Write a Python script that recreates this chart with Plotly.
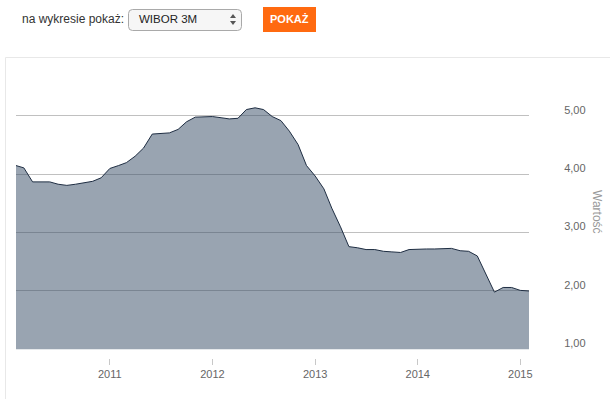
import pandas as pd
import plotly.graph_objects as go

# ---- data ----
start_month = "2010-02-01"
wibor_3m = [
    4.15, 4.11, 3.87, 3.87, 3.87, 3.83, 3.81, 3.83, 3.85, 3.88, 3.94,
    4.10, 4.15, 4.20, 4.31, 4.45, 4.69, 4.70, 4.71, 4.77, 4.90, 4.98, 4.99,
    4.99, 4.97, 4.95, 4.96, 5.11, 5.14, 5.11, 4.99, 4.92, 4.74, 4.51, 4.15,
    3.97, 3.75, 3.42, 3.10, 2.76, 2.74, 2.71, 2.71, 2.68, 2.67, 2.66, 2.71,
    2.72, 2.72, 2.72, 2.73, 2.73, 2.69, 2.68, 2.60, 2.29, 1.98, 2.06, 2.06,
    2.01, 2.00,
]
dates = pd.date_range(start_month, periods=len(wibor_3m), freq="MS")
y_ticks = [1, 2, 3, 4, 5]
x_ticks = ["2011-01-01", "2012-01-01", "2013-01-01", "2014-01-01", "2015-01-01"]
x_tick_labels = ["2011", "2012", "2013", "2014", "2015"]

# ---- layout geometry (pixels) ----
W, H = 610, 399
ML, MR, MT, MB = 16, 81, 70, 41
PW = W - ML - MR
PH = H - MT - MB
PLOT_BOTTOM = 349.3
UNIT = 58.33


def px(x):
    return (x - ML) / PW


def py(y):
    return (H - MB - y) / PH


def rrect(x0, y0, x1, y1, r):
    rx, ry = r / PW, r / PH
    X0, X1 = px(x0), px(x1)
    Y0, Y1 = py(y0), py(y1)  # Y0 top (larger), Y1 bottom
    return (f"M{X0+rx},{Y0} L{X1-rx},{Y0} Q{X1},{Y0} {X1},{Y0-ry} "
            f"L{X1},{Y1+ry} Q{X1},{Y1} {X1-rx},{Y1} L{X0+rx},{Y1} "
            f"Q{X0},{Y1} {X0},{Y1+ry} L{X0},{Y0-ry} Q{X0},{Y0} {X0+rx},{Y0} Z")


fig = go.Figure()
fig.add_trace(go.Scatter(
    x=dates, y=wibor_3m, mode="lines",
    line=dict(color="#1e2d42", width=1),
    fill="tozeroy", fillcolor="rgba(52,74,99,0.5)",
    hoverinfo="x+y", showlegend=False,
))

ydom0 = (H - MB - PLOT_BOTTOM) / PH
ytop = 1 + (PLOT_BOTTOM - MT) / UNIT

fig.update_layout(
    width=W, height=H,
    margin=dict(l=ML, r=MR, t=MT, b=MB, pad=0),
    paper_bgcolor="white", plot_bgcolor="white",
    separators=", ",
    font=dict(family="Liberation Sans, Arial, sans-serif", size=11, color="#666"),
    xaxis=dict(
        range=[dates[0], dates[-1]],
        anchor="free", position=0,
        showgrid=False, zeroline=False, showline=False,
        tickvals=x_ticks, ticktext=x_tick_labels,
        ticks="outside", ticklen=6, tickwidth=1, tickcolor="#c8c8c8",
        tickfont=dict(size=11, color="#666"),
    ),
    yaxis=dict(
        domain=[ydom0, 1],
        range=[1, ytop],
        side="right",
        tickvals=y_ticks, tickformat=".2f",
        showgrid=True, gridcolor="#c0c0c0", gridwidth=1,
        zeroline=False, showline=False,
        ticks="outside", ticklen=32, tickcolor="rgba(0,0,0,0)",
        ticklabelshift=-6,
        tickfont=dict(size=11, color="#666"),
    ),
)

shapes = [
    # panel border
    dict(type="rect", xref="paper", yref="paper",
         x0=px(5.5), x1=px(640), y0=py(57.5), y1=py(430),
         line=dict(color="#e8e8e8", width=1), fillcolor="rgba(0,0,0,0)", layer="below"),
    # select box
    dict(type="path", xref="paper", yref="paper", path=rrect(128.5, 9.5, 241.5, 30.5, 4),
         line=dict(color="#a9a9a9", width=1), fillcolor="#f6f6f6"),
    # select arrows
    dict(type="path", xref="paper", yref="paper",
         path=f"M{px(230)},{py(18)} L{px(236)},{py(18)} L{px(233)},{py(14)} Z",
         line=dict(width=0), fillcolor="#555"),
    dict(type="path", xref="paper", yref="paper",
         path=f"M{px(230)},{py(21)} L{px(236)},{py(21)} L{px(233)},{py(25)} Z",
         line=dict(width=0), fillcolor="#555"),
    # button
    dict(type="rect", xref="paper", yref="paper",
         x0=px(263), x1=px(316), y0=py(7), y1=py(32),
         line=dict(width=0), fillcolor="#ff6a10"),
]

annotations = [
    dict(text="na wykresie pokaż:", xref="paper", yref="paper",
         x=px(20), y=py(19.5), xanchor="left", yanchor="middle", showarrow=False,
         font=dict(family="Liberation Sans, Arial, sans-serif", size=12, color="#333")),
    dict(text="WIBOR 3M", xref="paper", yref="paper",
         x=px(137), y=py(19.5), xanchor="left", yanchor="middle", showarrow=False,
         font=dict(family="Liberation Sans, Arial, sans-serif", size=11.5, color="#222")),
    dict(text="<b>POKAŻ</b>", xref="paper", yref="paper",
         x=px(289.5), y=py(19.5), xanchor="center", yanchor="middle", showarrow=False,
         font=dict(family="Liberation Sans, Arial, sans-serif", size=11, color="white")),
    dict(text="Wartość", xref="paper", yref="paper",
         x=px(597), y=py(212), xanchor="center", yanchor="middle", showarrow=False,
         textangle=90,
         font=dict(family="Liberation Sans, Arial, sans-serif", size=12, color="#999")),
]

fig.update_layout(shapes=shapes, annotations=annotations)
fig.write_html(
    "out.html",
    config={"displayModeBar": False},
    post_script="document.body.style.margin='0';document.body.style.overflow='hidden';",
)
